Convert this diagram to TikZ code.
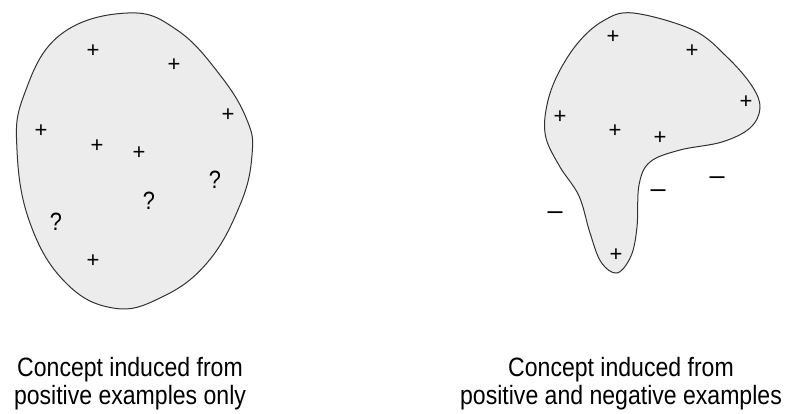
\documentclass[tikz,border=0pt]{standalone}
\usepackage{fontspec}
\setmainfont{Liberation Sans}
\newfontfamily\capfont[FakeStretch=0.87]{Liberation Sans}
\usepackage{tikz}
\definecolor{blobfill}{RGB}{236,236,236}
\definecolor{blobline}{RGB}{50,50,50}
\tikzset{
  blob/.style={draw=blobline, fill=blobfill, line width=1pt},
  plusmk/.style={inner sep=0pt, font=\fontsize{22}{22}\selectfont},
  minusmk/.style={inner sep=0pt, font=\fontsize{27}{27}\selectfont},
  quesmk/.style={inner sep=0pt, font=\capfont\fontsize{25}{25}\selectfont},
  caption/.style={inner sep=0pt, anchor=north, align=center,
              font=\capfont\fontsize{26.5}{28}\selectfont},
}

\begin{document}
\begin{tikzpicture}[x=1pt, y=-1pt]
        \useasboundingbox (0,0) rectangle (786,414);
        % concept from positive examples only
        \draw[blob] plot[smooth cycle, tension=0.7] coordinates {
          (128,13) (177,30) (220,75) (247,120) (252,155) (240,205) (207,263)
          (160,298) (113,308) (65,282) (30,223) (17,150) (24,95) (60,35)};
        \node[plusmk] (a1) at (93,51) {+};
        \node[plusmk] (a2) at (174,65) {+};
        \node[plusmk] (a3) at (228,115) {+};
        \node[plusmk] (a4) at (41,131) {+};
        \node[plusmk] (a5) at (97,146) {+};
        \node[plusmk] (a6) at (139,153) {+};
        \node[plusmk] (a7) at (93,261) {+};
        \node[quesmk] (q1) at (215,180) {?};
        \node[quesmk] (q2) at (149,201) {?};
        \node[quesmk] (q3) at (56,222) {?};
        \node[caption] (capa) at (130,357) {Concept induced from\\positive examples only};
        % concept from positive and negative examples
        \draw[blob] plot[smooth cycle, tension=0.6] coordinates {
          (633,13) (693,30) (727,57) (752,86) (760,108) (750,128) (722,142)
          (680,150) (650,162) (639,185) (637,227) (631,256) (617,273) (601,262)
          (590,233) (579,196) (560,167) (546,138) (546,110) (556,78) (577,44)
          (603,21)};
        \node[plusmk] (b1) at (613,37) {+};
        \node[plusmk] (b2) at (692,51) {+};
        \node[plusmk] (b3) at (746,102) {+};
        \node[plusmk] (b4) at (560,117) {+};
        \node[plusmk] (b5) at (615,131) {+};
        \node[plusmk] (b6) at (660,138) {+};
        \node[plusmk] (b7) at (616,255) {+};
        \node[minusmk] (n1) at (555,216) {–};
        \node[minusmk] (n2) at (658,194) {–};
        \node[minusmk] (n3) at (717,181) {–};
        \node[caption] (capb) at (621,357) {Concept induced from\\positive and negative examples};
      \end{tikzpicture}
\end{document}
